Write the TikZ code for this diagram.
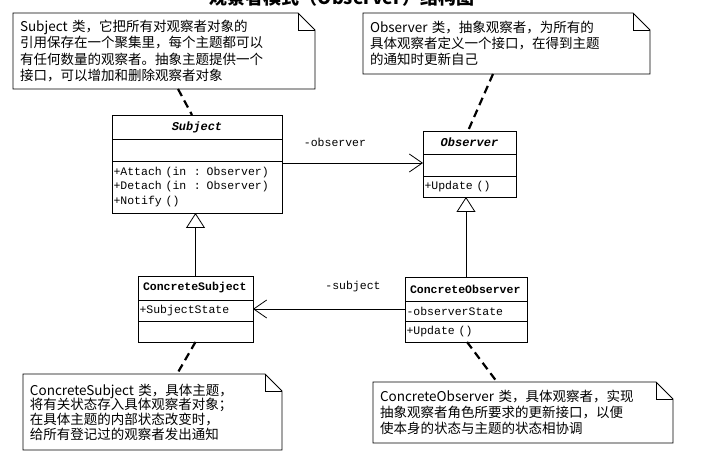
\documentclass[tikz,border=0pt]{standalone}
\usepackage{fontspec}
\setmainfont{Noto Sans CJK SC}
\newfontfamily\umlfont{Liberation Mono}
\usetikzlibrary{positioning,arrows.meta}

% folded corner round a note node
\newcommand{\foldnote}[1]{%
  \draw[line width=0.8pt] (#1.north west) -- ([xshift=-17pt]#1.north east)
    -- ([yshift=-17pt]#1.north east) -- (#1.south east) -- (#1.south west) -- cycle;
  \draw[line width=0.8pt] ([xshift=-17pt]#1.north east) |- ([yshift=-17pt]#1.north east);}

\tikzset{
  cpart/.style={draw, line width=0.8pt, outer sep=0pt, inner xsep=1.5pt, inner ysep=0pt,
    align=left, font=\umlfont\fontsize{11.5}{14.5}\selectfont},
  cname/.style={cpart, font=\umlfont\fontsize{11.5}{14}\selectfont\bfseries},
  cabstract/.style={cpart, align=center, font=\umlfont\fontsize{12}{14}\selectfont\bfseries\itshape},
  notetext/.style={inner xsep=7pt, inner ysep=0pt, outer sep=0pt, align=left, anchor=north west},
  dashlink/.style={line width=2.2pt, dash pattern=on 8pt off 5pt},
  assoc/.style={line width=0.8pt, -{Straight Barb[length=13pt,width=18pt]}},
  inherit/.style={line width=0.8pt, -{Triangle[open,length=15pt,width=19pt,fill=white]}},
}

\begin{document}
\begin{tikzpicture}[x=1pt,y=-1pt]
    \fill[white] (0,0) rectangle (710,457);
    \useasboundingbox (0,0) rectangle (710,457);
    \node[font=\fontsize{18}{18}\selectfont\bfseries, anchor=base] (title) at (342,5) {观察者模式（Observer）结构图};
    %
    % notes
    \node[notetext, text width=288pt, minimum height=76pt, font=\fontsize{13.5}{16.5}\selectfont] (note1) at (13,13)
      {Subject 类，它把所有对观察者对象的\\引用保存在一个聚集里，每个主题都可以\\有任何数量的观察者。抽象主题提供一个\\接口，可以增加和删除观察者对象};
    \foldnote{note1}
    \node[notetext, text width=273pt, minimum height=61pt, font=\fontsize{13.5}{16}\selectfont] (note2) at (363,13)
      {Observer 类，抽象观察者，为所有的\\具体观察者定义一个接口，在得到主题\\的通知时更新自己};
    \foldnote{note2}
    \node[notetext, text width=245pt, minimum height=76pt, font=\fontsize{13.5}{14.7}\selectfont] (note3) at (23,374)
      {ConcreteSubject 类，具体主题，\\将有关状态存入具体观察者对象；\\在具体主题的内部状态改变时，\\给所有登记过的观察者发出通知};
    \foldnote{note3}
    \node[notetext, text width=286pt, minimum height=61pt, font=\fontsize{13.5}{16}\selectfont] (note4) at (373,382)
      {ConcreteObserver 类，具体观察者，实现\\抽象观察者角色所要求的更新接口，以便\\使本身的状态与主题的状态相协调};
    \foldnote{note4}
    %
    % Subject
    \node[cabstract, text width=167pt, minimum height=24pt, anchor=north west] (subname) at (112,115) {Subject};
    \node[cpart, text width=167pt, minimum height=22pt, below=0pt of subname] (subattr) {};
    \node[cpart, text width=167pt, minimum height=52pt, below=0pt of subattr] (subops)
      {+Attach (in~~: Observer)\\+Detach (in~~: Observer)\\+Notify ()};
    % Observer
    \node[cabstract, text width=90pt, minimum height=23pt, anchor=north west] (obsname) at (423,131) {Observer};
    \node[cpart, text width=90pt, minimum height=22pt, below=0pt of obsname] (obsattr) {};
    \node[cpart, text width=90pt, minimum height=21pt, below=0pt of obsattr] (obsops) {+Update ()};
    % ConcreteSubject
    \node[cname, text width=105pt, inner xsep=5pt, minimum height=24pt, anchor=north west] (csname) at (138,276) {ConcreteSubject};
    \node[cpart, text width=112pt, minimum height=21pt, below=0pt of csname] (csattr) {+SubjectState};
    \node[cpart, text width=112pt, minimum height=21pt, below=0pt of csattr] (csops) {};
    % ConcreteObserver
    \node[cname, text width=112pt, inner xsep=5pt, minimum height=24pt, anchor=north west] (coname) at (405,277) {ConcreteObserver};
    \node[cpart, text width=119pt, minimum height=20pt, below=0pt of coname] (coattr) {-observerState};
    \node[cpart, text width=119pt, minimum height=21pt, below=0pt of coattr] (coops) {+Update ()};
    %
    % relations
    \draw[assoc] ([yshift=-2pt]subops.north east) -- ([yshift=-2pt]subops.north east -| obsattr.west);
    \node[font=\umlfont\fontsize{11.5}{13}\selectfont] (obslabel) at (335,142) {-observer};
    \draw[assoc] ([yshift=2pt]coattr.west) -- ([yshift=2pt]coattr.west -| csattr.east);
    \node[font=\umlfont\fontsize{11.5}{13}\selectfont] (sublabel) at (353,287) {-subject};
    \draw[inherit] (csname.north) -- (csname.north |- subops.south);
    \draw[inherit] (coname.north) -- (coname.north |- obsops.south);
    %
    \draw[dashlink] ([xshift=14pt]note1.south) -- ([xshift=-5pt]subname.north);
    \draw[dashlink] ([xshift=-13.5pt]note2.south) -- ([xshift=-1.5pt]obsname.north);
    \draw[dashlink] (csops.south) -- ([xshift=24.5pt]note3.north);
    \draw[dashlink] ([xshift=1pt]coops.south) -- ([xshift=-26pt]note4.north);
\end{tikzpicture}
\end{document}
